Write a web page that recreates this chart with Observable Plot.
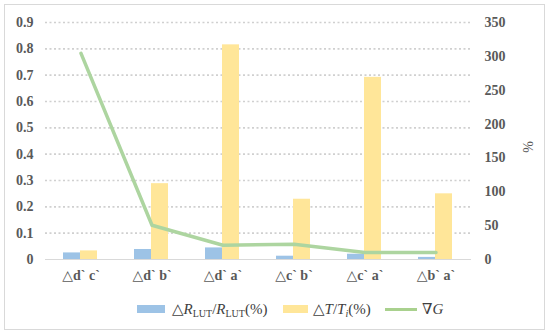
<!DOCTYPE html>
<html><head><meta charset="utf-8">
<script src="https://cdn.jsdelivr.net/npm/d3@7"></script>
<script src="https://cdn.jsdelivr.net/npm/@observablehq/plot@0.6"></script>
<style>
body{margin:0;background:#fff;width:550px;height:335px;overflow:hidden;position:relative;font-family:"Liberation Serif","DejaVu Serif",serif;}
#frame{position:absolute;left:4px;top:4px;width:541px;height:326px;border:1px solid #d9d9d9;box-sizing:border-box;}
#chart{position:absolute;left:0;top:0;}
#chart svg, #chart svg text{font-family:"Liberation Serif","DejaVu Serif",serif !important;}
.leg{position:absolute;top:300px;font-size:15px;color:#404040;line-height:18px;white-space:nowrap;font-family:"Liberation Serif","DejaVu Serif",serif;}
.sw{position:absolute;top:305px;height:8px;}
.ln{position:absolute;top:308px;height:3px;}
sub{font-size:10px;vertical-align:-3px;line-height:0;}
</style></head>
<body>
<div id="frame"></div>
<div id="chart"></div>
<div class="sw" style="left:137px;width:28px;background:#9dc3e6"></div>
<div class="leg" style="left:172px">△<i>R</i><sub>LUT</sub>/<i>R</i><sub>LUT</sub>(%)</div>
<div class="sw" style="left:283px;width:25px;background:#ffe699"></div>
<div class="leg" style="left:313px">△<i>T</i>/<i>T</i><sub><i>i</i></sub>(%)</div>
<div class="ln" style="left:385px;width:32px;background:#a9d18e"></div>
<div class="leg" style="left:422px">∇<i>G</i></div>
<script>
const categories = ["△d` c`", "△d` b`", "△d` a`", "△c` b`", "△c` a`", "△b` a`"];
const deltaR = [0.025, 0.038, 0.044, 0.0125, 0.02, 0.008];      // left axis
const deltaT = [12.7, 112, 317, 89, 269, 97];                    // right axis (%)
const gradG  = [0.783, 0.13, 0.054, 0.058, 0.027, 0.027];       // left axis
const leftTicks = [0, 0.1, 0.2, 0.3, 0.4, 0.5, 0.6, 0.7, 0.8, 0.9];
const rightTicks = [0, 50, 100, 150, 200, 250, 300, 350];
const leftMax = 0.9, rightMax = 350;
const toLeft = v => v * leftMax / rightMax;

const rows = categories.map((c, i) => ({c, r: deltaR[i], t: toLeft(deltaT[i]), g: gradG[i]}));

const chart = Plot.plot({
  width: 550, height: 290,
  marginLeft: 45, marginRight: 79, marginTop: 22, marginBottom: 31,
  style: {background: "transparent"},
  x: {domain: categories, padding: 0, label: null},
  y: {domain: [0, leftMax], label: null},
  marks: [
    Plot.ruleY(leftTicks.slice(1), {stroke: "#d0d0d0", strokeWidth: 1.6, strokeDasharray: "2,2.5"}),
    Plot.barY(rows, {x: "c", y: "r", fill: "#9dc3e6", insetLeft: 18, insetRight: 36}),
    Plot.barY(rows, {x: "c", y: "t", fill: "#ffe699", insetLeft: 35, insetRight: 19}),
    Plot.ruleY([0], {stroke: "#d9d9d9", strokeWidth: 1}),
    Plot.line(rows, {x: "c", y: "g", stroke: "#add5a0", strokeWidth: 3.5, strokeLinejoin: "round"}),
    Plot.axisY(leftTicks, {anchor: "left", tickSize: 0, tickPadding: 12, tickFormat: d => d === 0 ? "0" : d.toFixed(1), fontSize: 14, fontWeight: "bold", fill: "#595959", label: null}),
    Plot.axisY(rightTicks.map(toLeft), {anchor: "right", tickSize: 0, tickPadding: 13, tickFormat: d => String(Math.round(d * rightMax / leftMax)), fontSize: 14, fontWeight: "bold", fill: "#595959", label: null}),
    Plot.axisX({tickSize: 0, tickPadding: 11, fontSize: 14, fontWeight: "bold", fill: "#595959", label: null}),
    Plot.text(["%"], {frameAnchor: "right", dx: 57, rotate: -90, fontSize: 14, fill: "#595959"})
  ]
});
document.getElementById("chart").appendChild(chart);
</script>
</body></html>
